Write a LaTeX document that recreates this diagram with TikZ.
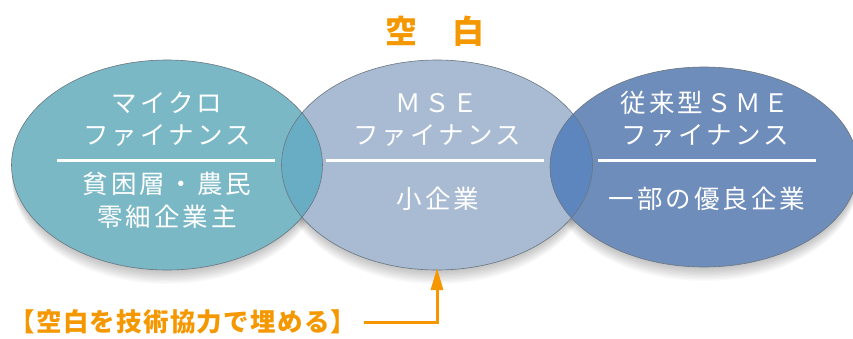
\documentclass[tikz,border=0pt]{standalone}
\usepackage{fontspec}
\usetikzlibrary{shapes.geometric,arrows.meta}
\newfontfamily\jpw[LetterSpace=12]{Noto Sans CJK JP}
\newfontfamily\jpo[LetterSpace=5]{Noto Sans CJK JP}
\newfontfamily\jpt[LetterSpace=6]{Noto Sans CJK JP}
\definecolor{leftc}{RGB}{123,184,198}
\definecolor{midc}{RGB}{169,187,210}
\definecolor{rightc}{RGB}{111,141,186}
\definecolor{ovlA}{RGB}{105,173,196}
\definecolor{ovlB}{RGB}{93,134,190}
\definecolor{edgec}{RGB}{105,118,128}
\definecolor{orangec}{RGB}{245,152,0}
\begin{document}
\begin{tikzpicture}[x=1pt,y=-1pt,
  bubble/.style={ellipse, inner sep=0pt, outer sep=0pt},
  wtxt/.style={text=white, inner sep=0pt, font=\jpw\fontsize{25.5}{25.5}\selectfont},
  whrule/.style={draw=white, line width=3pt},
  edgeline/.style={draw=edgec, line width=0.6pt},
  orangetxt/.style={text=orangec, inner sep=0pt},
  arrowline/.style={draw=orangec, line width=3pt, -{Triangle[length=22pt,width=12pt]}}
]
\useasboundingbox (0,0) rectangle (853,338);
\fill[white] (0,0) rectangle (853,338);
% soft shadows
\foreach \s in {1,...,10}{
  \fill[black,opacity=0.022] (167,165+1.4*\s) ellipse [x radius=155pt, y radius=105pt];
  \fill[black,opacity=0.022] (437,165+1.4*\s) ellipse [x radius=155pt, y radius=105pt];
  \fill[black,opacity=0.022] (704,167+1.4*\s) ellipse [x radius=154pt, y radius=100pt];
}
% bubbles
\node[bubble, fill=leftc, minimum width=311pt, minimum height=210pt] (mf) at (167,165) {};
\node[bubble, fill=midc, minimum width=311pt, minimum height=210pt] (mse) at (437,165) {};
\node[bubble, fill=rightc, minimum width=308pt, minimum height=200pt] (sme) at (704,167) {};
% overlaps
\begin{scope}
  \clip (mf.center) ellipse [x radius=155.5pt, y radius=105pt];
  \fill[ovlA] (mse.center) ellipse [x radius=155.5pt, y radius=105pt];
\end{scope}
\begin{scope}
  \clip (mse.center) ellipse [x radius=155.5pt, y radius=105pt];
  \fill[ovlB] (sme.center) ellipse [x radius=154pt, y radius=100pt];
\end{scope}
% outlines
\draw[edgeline] (mf.center) ellipse [x radius=155.5pt, y radius=105pt];
\draw[edgeline] (mse.center) ellipse [x radius=155.5pt, y radius=105pt];
\draw[edgeline] (sme.center) ellipse [x radius=154pt, y radius=100pt];
% left texts
\node[wtxt] (mf1) at (167,103) {マイクロ};
\node[wtxt] (mf2) at (167,136) {ファイナンス};
\draw[whrule] (57,160) -- (275,160);
\node[wtxt] (mf3) at (167,184) {貧困層・農民};
\node[wtxt] (mf4) at (167,217) {零細企業主};
% middle texts
\node[wtxt] (ms1) at (437,103) {ＭＳＥ};
\node[wtxt] (ms2) at (437,136) {ファイナンス};
\draw[whrule] (326,160) -- (544,160);
\node[wtxt] (ms3) at (438,199) {小企業};
% right texts
\node[wtxt] (sm1) at (705,103) {従来型ＳＭＥ};
\node[wtxt] (sm2) at (705,136) {ファイナンス};
\draw[whrule] (598,160) -- (816,160);
\node[wtxt] (sm3) at (707,199) {一部の優良企業};
% orange
\node[orangetxt, font=\jpt\bfseries\fontsize{32}{32}\selectfont] (gap) at (435,31) {空　白};
\node[orangetxt, font=\jpo\bfseries\fontsize{25.5}{25.5}\selectfont] (note) at (183,322) {【空白を技術協力で埋める】};
\draw[arrowline] ([xshift=7pt]note.east) -| ([yshift=2pt]mse.south);
\end{tikzpicture}
\end{document}
